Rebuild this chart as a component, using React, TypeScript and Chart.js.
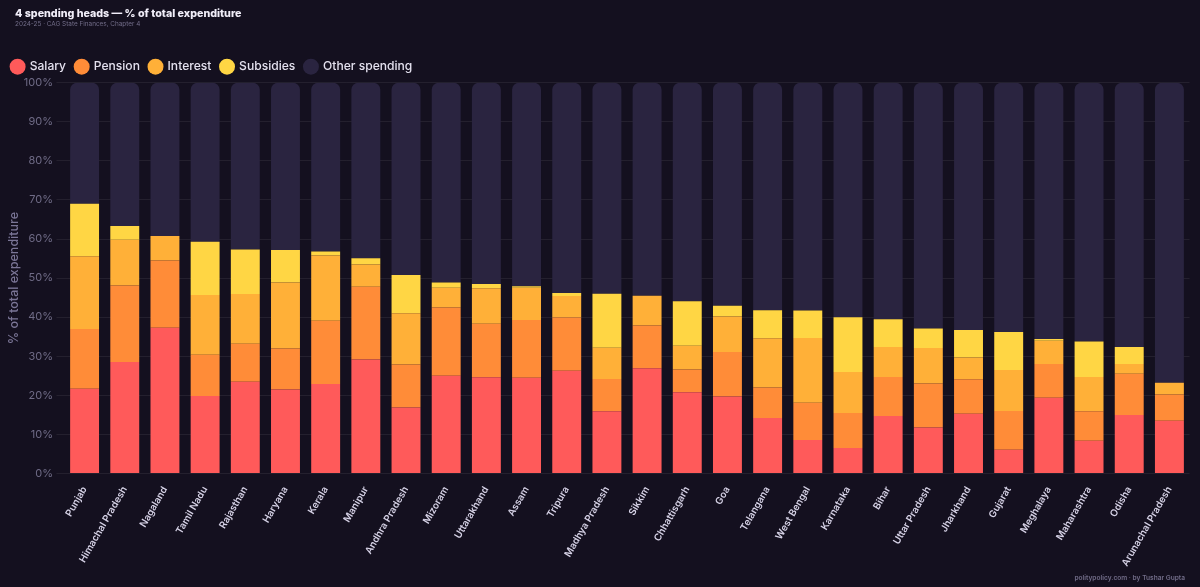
import { useEffect, useRef } from 'react'
import { Chart, registerables, type ChartConfiguration } from 'chart.js'

Chart.register(...registerables)

const states = [
  'Punjab', 'Himachal Pradesh', 'Nagaland', 'Tamil Nadu', 'Rajasthan', 'Haryana', 'Kerala',
  'Manipur', 'Andhra Pradesh', 'Mizoram', 'Uttarakhand', 'Assam', 'Tripura', 'Madhya Pradesh',
  'Sikkim', 'Chhattisgarh', 'Goa', 'Telangana', 'West Bengal', 'Karnataka', 'Bihar',
  'Uttar Pradesh', 'Jharkhand', 'Gujarat', 'Meghalaya', 'Maharashtra', 'Odisha', 'Arunachal Pradesh',
]

const salary = [21.7, 28.5, 37.3, 19.8, 23.5, 21.5, 22.9, 29.2, 16.9, 25.0, 24.6, 24.5, 26.3, 15.9, 26.9, 20.8, 19.7, 14.2, 8.6, 6.5, 14.7, 11.8, 15.3, 6.1, 19.4, 8.4, 15.0, 13.5]
const pension = [15.3, 19.6, 17.2, 10.6, 9.7, 10.5, 16.2, 18.6, 11.0, 17.5, 13.7, 14.8, 13.6, 8.3, 11.0, 5.8, 11.4, 7.8, 9.5, 9.0, 10.0, 11.2, 8.8, 9.9, 8.6, 7.5, 10.5, 6.7]
const interest = [18.6, 11.7, 6.3, 15.3, 12.7, 16.9, 16.7, 5.7, 13.1, 5.0, 9.1, 8.2, 5.5, 8.0, 7.6, 6.1, 9.1, 12.6, 16.6, 10.5, 7.7, 9.1, 5.6, 10.5, 6.0, 8.8, 2.5, 3.0]
const subsidies = [13.4, 3.5, 0, 13.6, 11.4, 8.3, 1.0, 1.6, 9.8, 1.4, 1.1, 0.4, 0.8, 13.8, 0, 11.4, 2.7, 7.2, 7.0, 14.0, 7.1, 5.0, 7.0, 9.7, 0.4, 9.1, 4.4, 0]
const other = [31.0, 36.7, 39.2, 40.7, 42.7, 42.8, 43.2, 44.9, 49.2, 51.1, 51.5, 52.1, 53.8, 54.0, 54.5, 55.9, 57.1, 58.2, 58.3, 60.0, 60.5, 62.9, 63.3, 63.8, 65.6, 66.2, 67.6, 76.8]

const yTicks = ['0%', '10%', '20%', '30%', '40%', '50%', '60%', '70%', '80%', '90%', '100%']

const BG = '#14101f'
const FONT = 'Inter, "Noto Sans", sans-serif'

const bgPlugin = {
  id: 'bg',
  beforeDraw(chart: Chart) {
    const { ctx, width, height } = chart
    ctx.save()
    ctx.fillStyle = BG
    ctx.fillRect(0, 0, width, height)
    ctx.restore()
  },
}

export default function App() {
  const canvasRef = useRef<HTMLCanvasElement | null>(null)

  useEffect(() => {
    document.body.style.margin = '0'
    document.body.style.background = BG
    if (!canvasRef.current) return

    const seg = (label: string, data: number[], color: string) => ({
      label,
      data,
      backgroundColor: color,
      borderWidth: 0,
      stack: 'a',
      barPercentage: 0.72,
      categoryPercentage: 1,
    })

    const config: ChartConfiguration<'bar'> = {
      type: 'bar',
      data: {
        labels: states,
        datasets: [
          seg('Salary', salary, '#ff5a5a'),
          seg('Pension', pension, '#ff8c38'),
          seg('Interest', interest, '#ffb038'),
          seg('Subsidies', subsidies, '#ffd644'),
          {
            ...seg('Other spending', other, '#2a2440'),
            borderRadius: { topLeft: 7, topRight: 7, bottomLeft: 0, bottomRight: 0 },
            borderSkipped: false,
          },
        ],
      },
      options: {
        responsive: false,
        animation: false,
        devicePixelRatio: 1,
        layout: { padding: { left: 2, right: 10.5, top: 51, bottom: 0 } },
        scales: {
          x: {
            stacked: true,
            grid: { display: false },
            border: { display: false },
            ticks: {
              color: '#d6d2e6',
              font: { family: FONT, size: 9.8, weight: 600 },
              autoSkip: false,
              minRotation: 60,
              maxRotation: 60,
              padding: 3,
            },
            afterFit(scale) {
              scale.height = 113.5
            },
          },
          y: {
            stacked: true,
            min: 0,
            max: 100,
            grid: { color: 'rgba(255,255,255,0.07)', tickLength: 8, lineWidth: 1 },
            border: { display: false },
            ticks: {
              stepSize: 10,
              color: '#6f6b86',
              font: { family: FONT, size: 11 },
              padding: 3.5,
              callback: (_v, i) => yTicks[i],
            },
            title: {
              display: true,
              text: '% of total expenditure',
              color: '#7a7596',
              font: { family: FONT, size: 12.5, weight: 500 },
              padding: { top: 5, bottom: 0 },
            },
            afterFit(scale) {
              scale.width = 62.5
            },
          },
        },
        plugins: {
          tooltip: { enabled: false },
          legend: {
            position: 'top',
            align: 'start',
            labels: {
              color: '#e4e1ef',
              font: { family: FONT, size: 12.1, weight: 500 },
              usePointStyle: true,
              pointStyle: 'circle',
              boxWidth: 12,
              boxHeight: 11.3,
              padding: 9.6,
            },
          },
        },
      },
      plugins: [bgPlugin],
    }

    const chart = new Chart(canvasRef.current, config)
    return () => chart.destroy()
  }, [])

  return (
    <div style={{ position: 'relative', width: 1200, height: 587, overflow: 'hidden' }}>
      <canvas ref={canvasRef} width={1200} height={587} style={{ display: 'block' }} />
      <div style={{ position: 'absolute', left: 15, top: 7, font: `800 10.7px/14px ${FONT}`, color: '#f1eef9' }}>
        4 spending heads — % of total expenditure
      </div>
      <div style={{ position: 'absolute', left: 15, top: 20, font: `400 6.4px/9px ${FONT}`, color: '#716c88' }}>
        2024-25 · CAG State Finances, Chapter 4
      </div>
      <div style={{ position: 'absolute', right: 15, top: 573, font: `600 6.6px/10px ${FONT}`, color: '#716c88' }}>
        politypolicy.com · by Tushar Gupta
      </div>
    </div>
  )
}
